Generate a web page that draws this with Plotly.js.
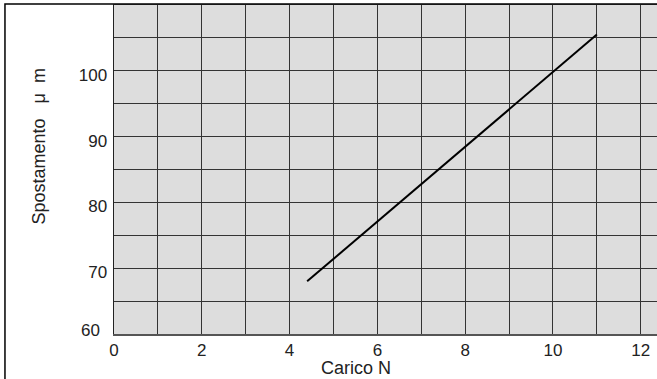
<!DOCTYPE html>
<html>
<head>
<meta charset="utf-8">
<script src="https://cdn.plot.ly/plotly-3.0.1.min.js"></script>
<style>html,body{margin:0;padding:0;background:#fff;}#chart{width:657px;height:379px;}</style>
</head>
<body>
<div id="chart"></div>
<script>
// Data
var loadN = [4.4, 11.0];
var displacementUm = [68.0, 105.5];

var xTickVals = [0,1,2,3,4,5,6,7,8,9,10,11,12];
var xTickText = ["0","","2","","4","","6","","8","","10","","12"];
var yTickVals = [60,65,70,75,80,85,90,95,100,105,110];
var yTickText = ["","","70","","80","","90","","100","",""];
var yBottomLabel = "60";

var xTitle = "Carico N";
var yTitle = "Spostamento\u00a0\u00a0\u00a0\u03bc\u00a0\u00a0m";

var fontFam = "Liberation Sans, Arial, sans-serif";

var trace = {
  x: loadN, y: displacementUm, type: "scatter", mode: "lines",
  line: {color: "#000", width: 2}, hoverinfo: "skip", showlegend: false
};

var layout = {
  width: 657, height: 379,
  margin: {l: 114, r: 0, t: 5, b: 45, pad: 0},
  paper_bgcolor: "#ffffff",
  plot_bgcolor: "#dddddd",
  font: {family: fontFam, size: 17, color: "#222"},
  xaxis: {
    range: [0, 12.37], tickvals: xTickVals, ticktext: xTickText,
    showgrid: true, gridcolor: "#333", gridwidth: 1,
    zeroline: false, showline: true, linecolor: "#555", linewidth: 1.5,
    mirror: true, ticks: "", fixedrange: true,
    tickfont: {family: fontFam, size: 17, color: "#222"}
  },
  yaxis: {
    range: [60, 110], tickvals: yTickVals, ticktext: yTickText,
    showgrid: true, gridcolor: "#333", gridwidth: 1,
    zeroline: false, showline: true, linecolor: "#222", linewidth: 1.5,
    mirror: false, ticks: "", ticklabelstandoff: 2, ticklabelshift: 4, fixedrange: true,
    tickfont: {family: fontFam, size: 17, color: "#222"}
  },
  shapes: [{
    type: "rect", xref: "paper", yref: "paper",
    x0: -0.2008, x1: 1.2, y0: -0.3, y1: 1.003,
    line: {color: "#000", width: 1.5}, fillcolor: "rgba(0,0,0,0)", layer: "above"
  }],
  annotations: [
    {text: yBottomLabel, xref: "paper", yref: "paper", x: (102 - 114) / 543, y: (334 - 330.5) / 329,
     showarrow: false, xanchor: "right", yanchor: "middle",
     font: {family: fontFam, size: 17, color: "#222"}},
    {text: xTitle, xref: "paper", yref: "paper", x: (356 - 114) / 543, y: (334 - 368) / 329,
     showarrow: false, xanchor: "center", yanchor: "middle",
     font: {family: fontFam, size: 18, color: "#222"}},
    {text: yTitle, xref: "paper", yref: "paper", x: (38.5 - 114) / 543, y: (334 - 147) / 329,
     showarrow: false, xanchor: "center", yanchor: "middle", textangle: -90,
     font: {family: fontFam, size: 18, color: "#222"}}
  ]
};

Plotly.newPlot("chart", [trace], layout, {displayModeBar: false, staticPlot: true});
</script>
</body>
</html>
